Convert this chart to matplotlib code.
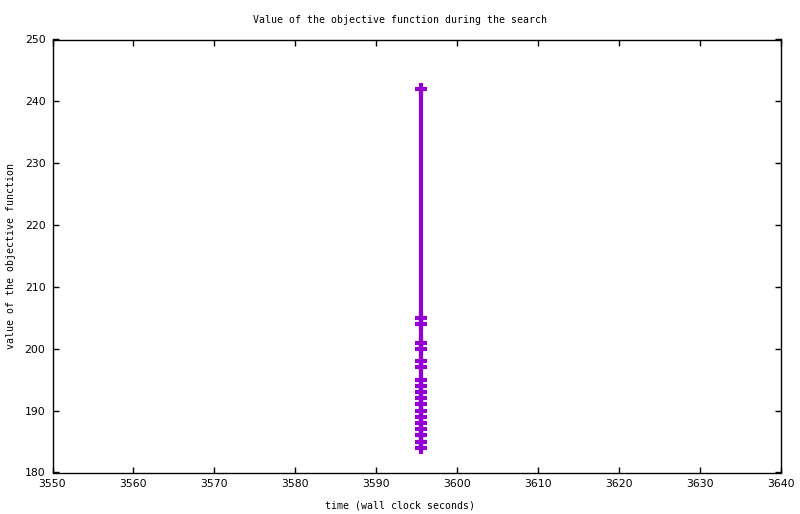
import matplotlib
matplotlib.use('Agg')
import matplotlib.pyplot as plt

# objective value found at each improvement, all reported at about the same wall clock time
times = [3595.5] * 19
values = [242, 205, 204, 201, 200, 198, 197, 195, 194, 193, 192, 191,
          190, 189, 188, 187, 186, 185, 184]

x_ticks = [3550, 3560, 3570, 3580, 3590, 3600, 3610, 3620, 3630, 3640]
y_ticks = [180, 190, 200, 210, 220, 230, 240, 250]

mono = 'DejaVu Sans Mono'

fig = plt.figure(figsize=(8.0, 5.14), dpi=100)
ax = fig.add_axes([52.5 / 800, 41.5 / 514, 728.5 / 800, 433 / 514])

ax.plot(times, values, color='#9400D3', linewidth=3, solid_capstyle='butt',
        marker='+', markersize=9, markeredgewidth=3)

ax.set_xlim(3550, 3640)
ax.set_ylim(180, 250)
ax.set_xticks(x_ticks)
ax.set_yticks(y_ticks)
ax.tick_params(direction='in', length=4.5, width=1, top=True, right=True,
               labelsize=7.8, pad=5)
for s in ax.spines.values():
    s.set_linewidth(1)

fig.text(0.5, 1 - 20 / 514, 'Value of the objective function during the search',
         ha='center', va='center', family=mono, fontsize=7.1)
fig.text(0.5, 1 - 505 / 514, 'time (wall clock seconds)',
         ha='center', va='center', family=mono, fontsize=7.1)
fig.text(11 / 800, 1 - 256 / 514, 'value of the objective function',
         ha='center', va='center', rotation=90, family=mono, fontsize=7.1)

fig.savefig('out.png', dpi=100)
